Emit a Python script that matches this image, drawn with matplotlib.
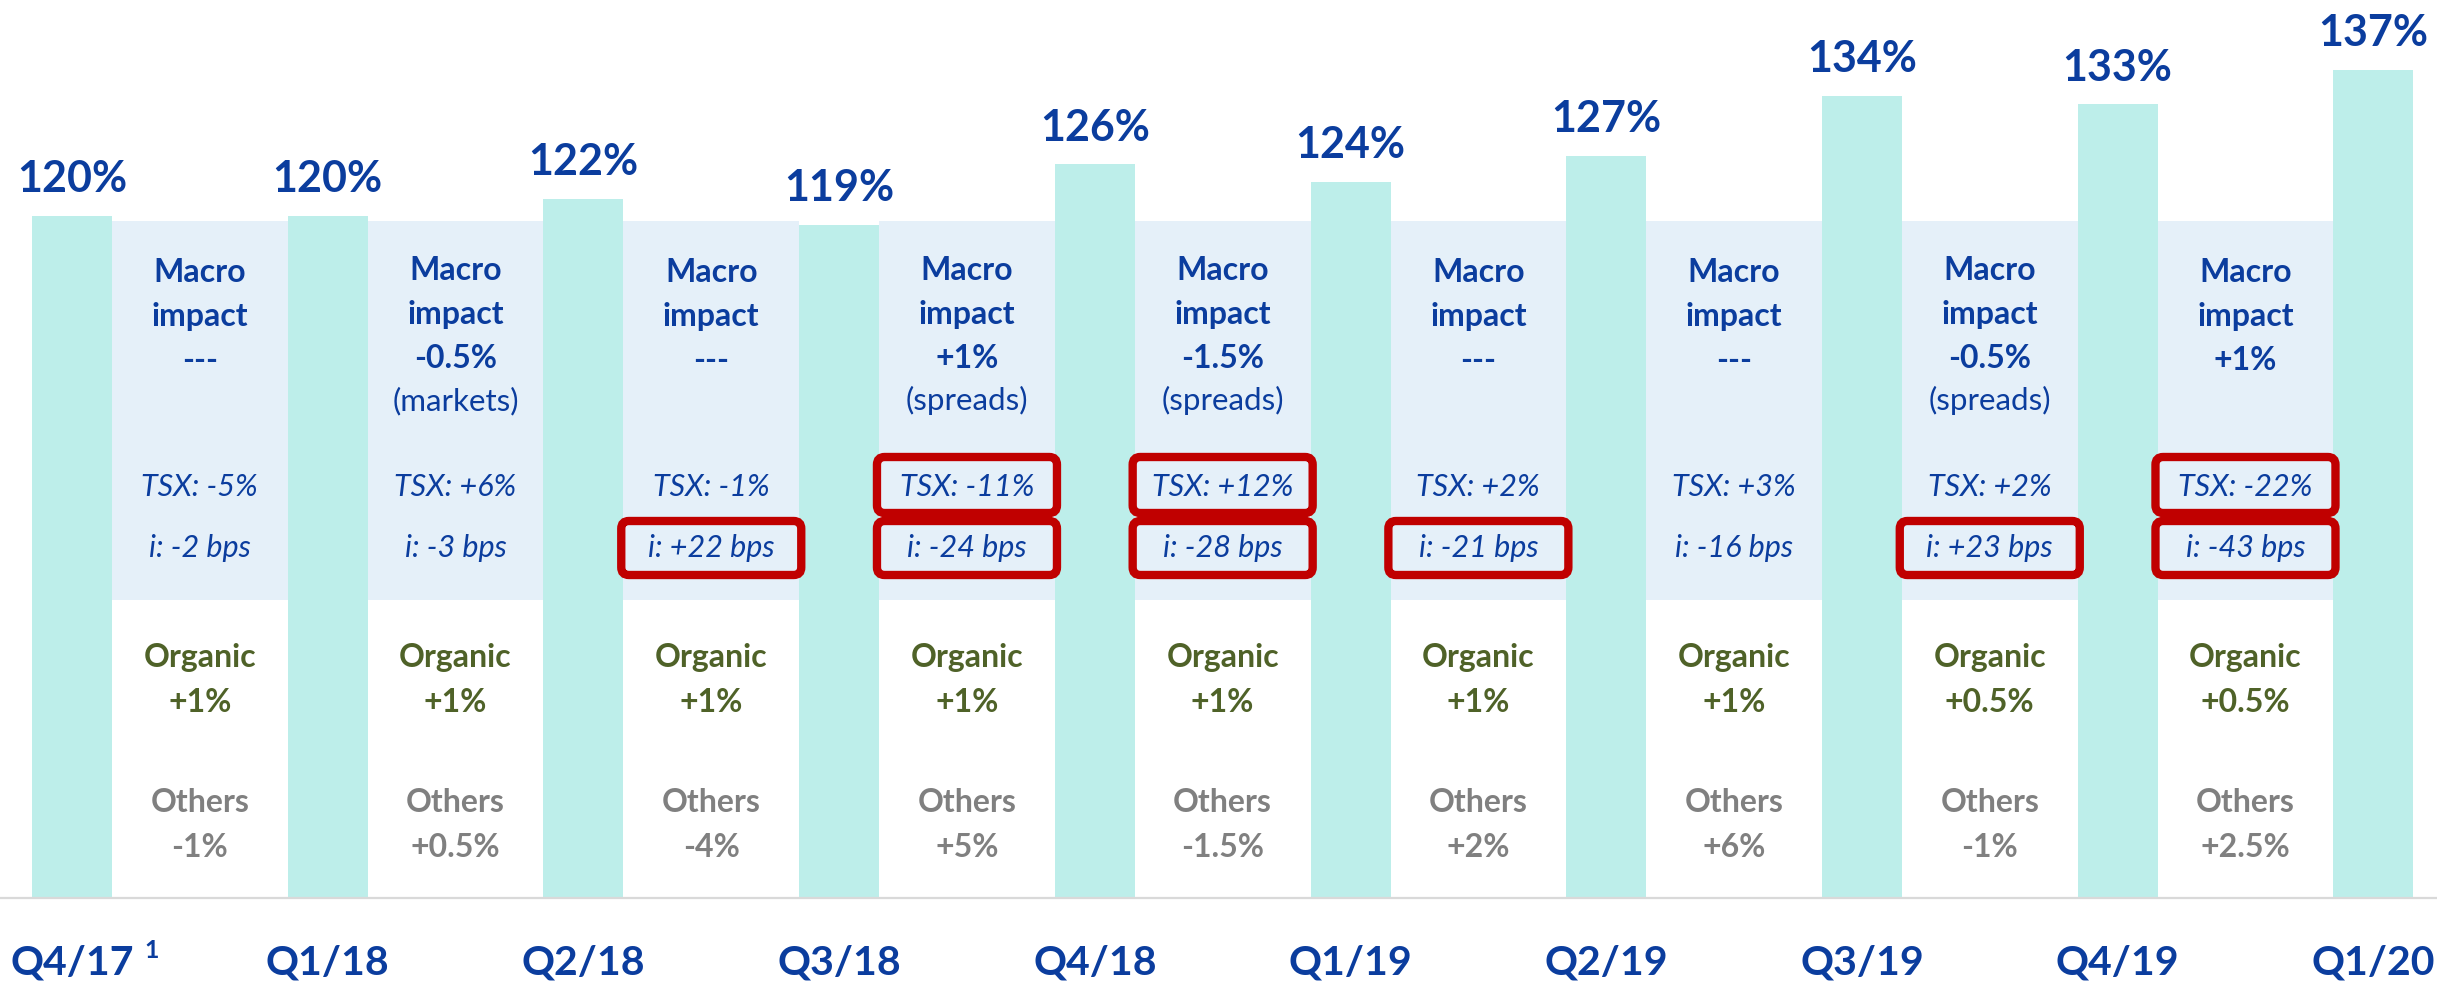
import numpy as np
import matplotlib
matplotlib.use("Agg")
import matplotlib.pyplot as plt
from matplotlib.patches import Rectangle, FancyBboxPatch
from matplotlib.transforms import blended_transform_factory

# ===== Data =====
quarters = ["Q4/17", "Q1/18", "Q2/18", "Q3/18", "Q4/18", "Q1/19", "Q2/19", "Q3/19", "Q4/19", "Q1/20"]
ratio = [120, 120, 122, 119, 126, 124, 127, 134, 133, 137]

# one entry per gap between two quarters
macro_pct = ["---", "-0.5%", "---", "+1%", "-1.5%", "---", "---", "-0.5%", "+1%"]
macro_note = ["", "(markets)", "", "(spreads)", "(spreads)", "", "", "(spreads)", ""]
tsx = ["TSX: -5%", "TSX: +6%", "TSX: -1%", "TSX: -11%", "TSX: +12%", "TSX: +2%", "TSX: +3%", "TSX: +2%", "TSX: -22%"]
rates = ["i: -2 bps", "i: -3 bps", "i: +22 bps", "i: -24 bps", "i: -28 bps", "i: -21 bps", "i: -16 bps", "i: +23 bps", "i: -43 bps"]
tsx_flag = [False, False, False, True, True, False, False, False, True]
rates_flag = [False, False, True, True, True, True, False, True, True]
organic = ["+1%", "+1%", "+1%", "+1%", "+1%", "+1%", "+1%", "+0.5%", "+0.5%"]
others = ["-1%", "+0.5%", "-4%", "+5%", "-1.5%", "+2%", "+6%", "-1%", "+2.5%"]
# ================

W, H = 2437, 981
BLUE = "#0B3D9E"
GREEN = "#4F6228"
GREY = "#808080"
RED = "#C00000"
BAR = "#BDEEEA"
SHADE = "#E5F0F9"
FONT = ["Lato", "DejaVu Sans"]

BASE = 40.6          # value at the bottom line
Y_LO, Y_HI = 30.94, 145.15
X_LO, X_HI = -0.2816, 9.249
BAR_W = 0.313

fig = plt.figure(figsize=(W / 100, H / 100), dpi=100)
ax = fig.add_axes([0, 0, 1, 1])
ax.set_xlim(X_LO, X_HI)
ax.set_ylim(Y_LO, Y_HI)
ax.axis("off")

tr = blended_transform_factory(ax.transData, ax.transAxes)


def fy(px):
    """pixel row (from top) -> axes fraction"""
    return 1 - px / H


def put(x, py, s, **kw):
    ax.text(x, fy(py), s, transform=tr, ha="center", va="baseline",
            family=FONT, **kw)


x = np.arange(len(quarters))

# shaded "macro" band between bars
for i in range(len(quarters) - 1):
    left = x[i] + BAR_W / 2
    ax.add_patch(Rectangle((left, fy(600)), 1 - BAR_W, fy(221) - fy(600),
                           transform=tr, color=SHADE, lw=0, zorder=0))

ax.bar(x, np.array(ratio) - BASE, bottom=BASE, width=BAR_W, color=BAR, zorder=1)
ax.axhline(BASE, color="#D9D9D9", lw=1.6, zorder=2)

for xi, v in zip(x, ratio):
    ax.annotate(f"{v}%", (xi, v), xytext=(0, 17), textcoords="offset points",
                ha="center", va="baseline", fontsize=31, fontweight="bold",
                color=BLUE, family=FONT)

for xi, q in zip(x, quarters):
    put(xi, 975, q, fontsize=29.5, fontweight="bold", color=BLUE)
put(x[0] + 0.31, 958, "1", fontsize=18, fontweight="bold", color=BLUE)

aspect = (W / (X_HI - X_LO)) / H
half = 90 / (W / (X_HI - X_LO))
for i in range(len(quarters) - 1):
    cx = x[i] + 0.5
    has_note = macro_note[i] != ""
    off = -2 if has_note else 0
    put(cx, 282 + off, "Macro", fontsize=23, fontweight="bold", color=BLUE)
    put(cx, 326 + off, "impact", fontsize=23, fontweight="bold", color=BLUE)
    put(cx, 370 + off, macro_pct[i], fontsize=23, fontweight="bold", color=BLUE)
    if has_note:
        put(cx, 412 + off, macro_note[i], fontsize=22.5, color=BLUE)
    put(cx, 496, tsx[i], fontsize=22, style="italic", color=BLUE)
    put(cx, 557, rates[i], fontsize=22, style="italic", color=BLUE)
    put(cx, 667, "Organic", fontsize=23, fontweight="bold", color=GREEN)
    put(cx, 712, organic[i], fontsize=23, fontweight="bold", color=GREEN)
    put(cx, 812, "Others", fontsize=23, fontweight="bold", color=GREY)
    put(cx, 857, others[i], fontsize=23, fontweight="bold", color=GREY)

    for flag, top, bot in ((tsx_flag[i], 457, 513), (rates_flag[i], 521, 575)):
        if not flag:
            continue
        ax.add_patch(FancyBboxPatch((cx - half, fy(bot)), 2 * half, fy(top) - fy(bot),
                                    boxstyle="round,pad=0,rounding_size=0.03",
                                    mutation_aspect=aspect, transform=tr,
                                    fill=False, edgecolor=RED, lw=6, zorder=5))

fig.savefig("out.png", dpi=100)
